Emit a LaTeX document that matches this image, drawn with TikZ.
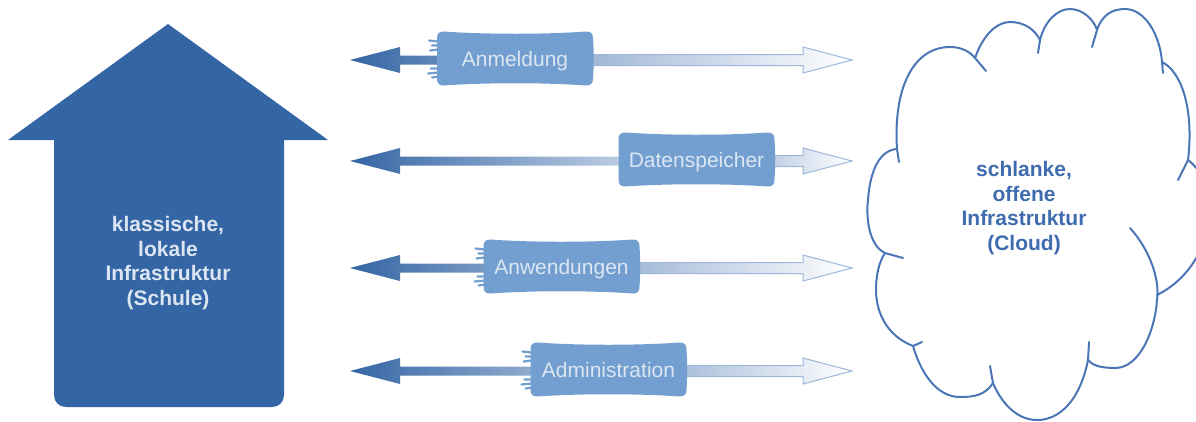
\documentclass[tikz,border=0pt]{standalone}
\usepackage{fontspec}
\setmainfont{Liberation Sans}
\usetikzlibrary{calc}
\definecolor{houseblue}{HTML}{3465A4}
\definecolor{boxblue}{HTML}{729FCF}
\definecolor{lighttext}{HTML}{DCE6F2}
\definecolor{cloudline}{HTML}{4A76B6}
\definecolor{cloudtext}{HTML}{3F6CAE}
\definecolor{rarrowline}{HTML}{9DB6DA}
\definecolor{rarrowfill}{HTML}{86A3CC}
\definecolor{larrowend}{HTML}{E4EBF5}
\begin{document}
\begin{tikzpicture}[x=1pt,y=-1pt,
  labeltext/.style={font=\fontsize{21}{25}\selectfont, text=lighttext, inner sep=0pt, anchor=base},
  bigtext/.style={font=\fontsize{21}{24.5}\selectfont\bfseries, align=center, inner sep=0pt},
  cloudstroke/.style={draw=cloudline, line width=2pt, line cap=round, line join=round},
  leftarrow/.style={left color=houseblue, right color=larrowend},
  rightarrow/.style={left color=rarrowfill, right color=white, draw=rarrowline, line width=1pt},
  labelbox/.style={fill=boxblue},
  tornedge/.style={draw=boxblue, line width=2.2pt, line cap=round}]
\useasboundingbox (0,0) rectangle (1196,421);
\clip (0,0) rectangle (1196,421);

% house (local infrastructure)
\fill[houseblue] (168,24) -- (328,140) -- (284,140) -- (284,395)
  .. controls (284,402) and (279,407) .. (272,407) -- (66,407)
  .. controls (59,407) and (54,402) .. (54,395) -- (54,140) -- (8,140) -- cycle;
\node[bigtext, text=lighttext] (schule) at (168,263) {klassische,\\lokale\\Infrastruktur\\(Schule)};

% cloud
\draw[cloudstroke] (899,162) -- (897,149) .. controls (893,85) and (915,47) .. (950,47)
  .. controls (962,47) and (970,52) .. (975,58) -- (986,71);
\draw[cloudstroke] (975,58) .. controls (985,30) and (1000,22) .. (1010,22)
  .. controls (1025,22) and (1035,30) .. (1040,40) -- (1038,53);
\draw[cloudstroke] (1040,40) .. controls (1045,20) and (1058,9) .. (1070,9)
  .. controls (1083,9) and (1094,20) .. (1097,30) -- (1092,47);
\draw[cloudstroke] (1097,30) .. controls (1102,15) and (1112,9) .. (1125,9)
  .. controls (1145,9) and (1160,35) .. (1162,62) -- (1163,73);
\draw[cloudstroke] (1162,62) .. controls (1182,72) and (1194,110) .. (1188,160) -- (1178,180);
\draw[cloudstroke] (1188,160) .. controls (1222,185) and (1217,265) .. (1157,295);
\draw[cloudstroke] (1130,228) .. controls (1150,250) and (1160,280) .. (1157,300)
  .. controls (1155,330) and (1140,368) .. (1115,368)
  .. controls (1100,368) and (1092,365) .. (1088,360) -- (1089,342);
\draw[cloudstroke] (1088,360) .. controls (1080,400) and (1060,420) .. (1037,420)
  .. controls (1015,420) and (1000,400) .. (993,383) -- (990,366);
\draw[cloudstroke] (993,383) .. controls (985,395) and (975,397) .. (960,397)
  .. controls (935,397) and (920,370) .. (913,346) -- (922,342);
\draw[cloudstroke] (913,346) .. controls (885,335) and (876,310) .. (876,290)
  .. controls (876,275) and (879,262) .. (885,253) -- (903,258);
\draw[cloudstroke] (885,253) .. controls (868,245) and (866,215) .. (868,200)
  .. controls (870,170) and (880,150) .. (897,149);
\node[bigtext, text=cloudtext] (cloudlbl) at (1024,208) {schlanke,\\offene\\Infrastruktur\\(Cloud)};

% double arrows with labels
\foreach \y/\cx/\name/\txt/\torn in {60/515/anm/Anmeldung/1, 161/696.5/dat/Datenspeicher/0, 268/561.5/anw/Anwendungen/1, 371/608.5/adm/Administration/1}{
  \coordinate (\name-l) at (350,\y);
  \coordinate (\name-r) at (852,\y);
  \coordinate (\name-c) at (\cx,\y);
  \shade[leftarrow] (\name-l) -- ++(50,-13) -- ++(0,8.5) -- ++(300,0) -- ++(0,9) -- ++(-300,0) -- ++(0,8.5) -- cycle;
  \shadedraw[rightarrow] ($(\name-c)+(0,-5.5)$) -- (803,{\y-5.5}) -- (803,{\y-13}) -- (\name-r)
    -- (803,{\y+13}) -- (803,{\y+5.5}) -- ($(\name-c)+(0,5.5)$) -- cycle;
  \begin{scope}[shift={(\cx,{\y-1.5})}]
    \fill[labelbox] (-78,-20) .. controls (-78,-25) and (-76,-27) .. (-71,-27)
      .. controls (-30,-24) and (30,-24) .. (71,-27)
      .. controls (76,-27) and (78,-25) .. (78,-20)
      .. controls (79,-5) and (79,5) .. (78,20)
      .. controls (78,25) and (76,27) .. (71,27)
      .. controls (30,24) and (-30,24) .. (-71,27)
      .. controls (-76,27) and (-78,25) .. (-78,20) -- cycle;
    \ifnum\torn=1
      \draw[tornedge] (-77,-17) -- (-86,-18) (-77,-13) -- (-83,-13) (-77,-9) -- (-85,-8)
        (-77,10) -- (-84,10) (-77,14) -- (-87,15) (-77,18) -- (-83,19);
    \fi
  \end{scope}
  \node[labeltext] (\name) at (\cx,{\y+6}) {\txt};
}
\end{tikzpicture}
\end{document}
